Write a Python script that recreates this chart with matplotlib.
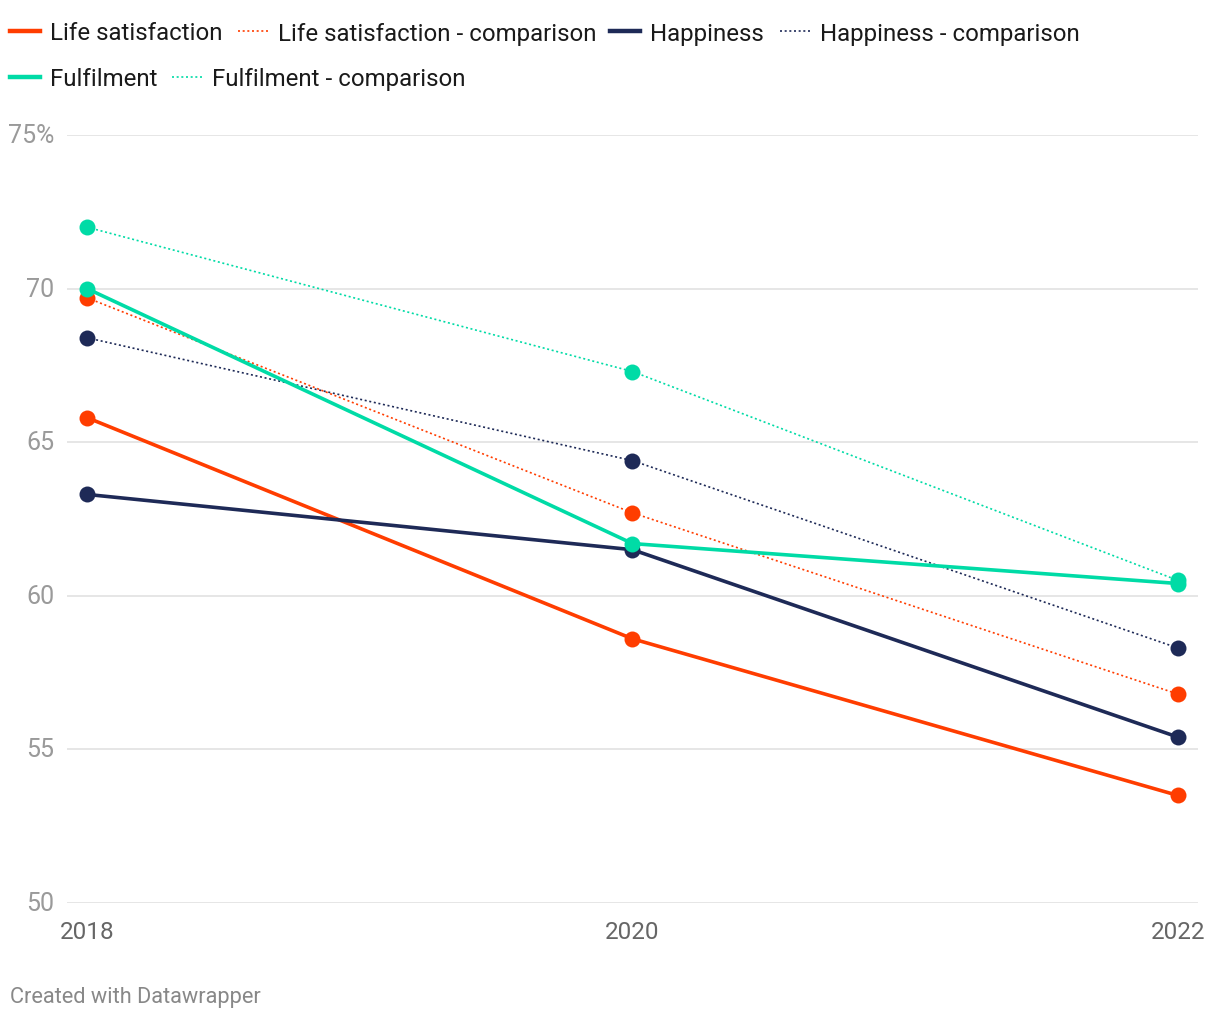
import matplotlib
matplotlib.use("Agg")
import matplotlib.pyplot as plt
from matplotlib.lines import Line2D

plt.rcParams['font.family'] = ['Roboto', 'DejaVu Sans']

years = [2018, 2020, 2022]
life_sat = [65.8, 58.6, 53.5]
life_sat_cmp = [69.7, 62.7, 56.8]
happiness = [63.3, 61.5, 55.4]
happiness_cmp = [68.4, 64.4, 58.3]
fulfilment = [70.0, 61.7, 60.4]
fulfilment_cmp = [72.0, 67.3, 60.5]

y_ticks = [50, 55, 60, 65, 70, 75]
y_labels = ["50", "55", "60", "65", "70", "75%"]

RED = "#ff3d00"
NAVY = "#1e2a57"
TEAL = "#00dba6"

series = [
    ("Life satisfaction", life_sat, RED, "solid"),
    ("Life satisfaction - comparison", life_sat_cmp, RED, "dotted"),
    ("Happiness", happiness, NAVY, "solid"),
    ("Happiness - comparison", happiness_cmp, NAVY, "dotted"),
    ("Fulfilment", fulfilment, TEAL, "solid"),
    ("Fulfilment - comparison", fulfilment_cmp, TEAL, "dotted"),
]

W, H = 1220, 1020
fig = plt.figure(figsize=(W / 100, H / 100), dpi=100)
ax = fig.add_axes([67 / W, 1 - 904 / H, (1198 - 67) / W, 768 / H])

pad = 20 / ((1178 - 87) / 4)
ax.set_xlim(2018 - pad, 2022 + pad)
ax.set_ylim(50, 75)

for name, vals, col, style in series:
    if style == "solid":
        ax.plot(years, vals, color=col, lw=2.6, zorder=3, solid_capstyle="round")
    else:
        ax.plot(years, vals, color=col, lw=1.2, linestyle=(0, (1.2, 1.6)), zorder=2)
    ax.plot(years, vals, "o", color=col, ms=11.5, mec="none", zorder=4)

ax.set_yticks(y_ticks)
ax.set_yticklabels(y_labels)
ax.set_xticks(years)
ax.set_xticklabels([str(y) for y in years])
ax.grid(axis="y", color="#e2e2e2", lw=1.2)
ax.set_axisbelow(True)
for s in ax.spines.values():
    s.set_visible(False)
ax.tick_params(axis="y", length=0, pad=9, labelsize=18, labelcolor="#9a9a9a")
ax.tick_params(axis="x", length=0, pad=12, labelsize=17.5, labelcolor="#666666")
for lbl in ax.get_yticklabels():
    lbl.set_verticalalignment("center")

# legend drawn manually
legend_items = [
    (10, 32, "Life satisfaction", RED, "solid"),
    (238, 32, "Life satisfaction - comparison", RED, "dotted"),
    (610, 32, "Happiness", NAVY, "solid"),
    (780, 32, "Happiness - comparison", NAVY, "dotted"),
    (10, 78, "Fulfilment", TEAL, "solid"),
    (172, 78, "Fulfilment - comparison", TEAL, "dotted"),
]
for x0, y0, txt, col, style in legend_items:
    yy = 1 - y0 / H
    if style == "solid":
        fig.add_artist(Line2D([x0 / W, (x0 + 30) / W], [yy, yy], color=col, lw=3.2,
                              transform=fig.transFigure))
    else:
        fig.add_artist(Line2D([x0 / W, (x0 + 30) / W], [yy, yy], color=col, lw=1.2,
                              linestyle=(0, (1.2, 1.6)), transform=fig.transFigure))
    fig.text((x0 + 40) / W, yy - 2 / H, txt, fontsize=17.3, color="#1a1a1a",
             va="center", ha="left")

fig.text(10 / W, 1 - 998 / H, "Created with Datawrapper", fontsize=15.7, color="#888888",
         va="center", ha="left")

fig.savefig("out.png", dpi=100, facecolor="white")
